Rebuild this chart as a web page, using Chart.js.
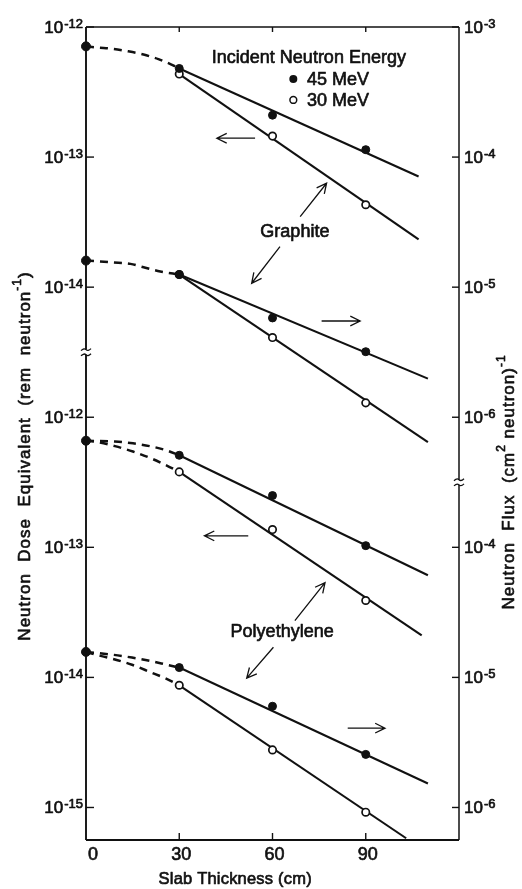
<!DOCTYPE html>
<html>
<head>
<meta charset="utf-8">
<title>Neutron dose equivalent vs slab thickness</title>
<script src="https://cdn.jsdelivr.net/npm/chart.js@4.4.1/dist/chart.umd.min.js"></script>
<style>
html,body{margin:0;padding:0;background:#fff;overflow:hidden}
#wrap{width:522px;height:889px}
canvas{display:block}
</style>
</head>
<body>
<div id="wrap"><canvas id="chart" width="522" height="889"></canvas></div>
<script>
/* ================= DATA ================= */
const thickness = [30, 60, 90];            // cm, measured slabs
const startX = [0];

// Graphite, dose equivalent (rem neutron^-1) – left axis, upper panel
const graphiteDoseStart = [7.1e-13];
const graphiteDose45 = [4.8e-13, 2.1e-13, 1.14e-13];
const graphiteDose30 = [4.35e-13, 1.45e-13, 4.3e-14];
const graphiteDoseCurveX = [0, 3.8, 8.3, 13.1, 18.5, 23.3, 27.5, 30];
const graphiteDoseCurve = [7.1e-13, 6.95e-13, 6.82e-13, 6.53e-13, 6.14e-13, 5.66e-13, 5.14e-13, 4.8e-13];
const graphiteDose45FitX = [30, 107];
const graphiteDose45Fit = [4.8e-13, 7.1e-14];
const graphiteDose30FitX = [30, 107];
const graphiteDose30Fit = [4.35e-13, 2.33e-14];

// Graphite, neutron flux (cm^2 neutron)^-1 – right axis, upper panel
const graphiteFluxStart = [1.6e-5];
const graphiteFlux45 = [1.25e-5, 5.8e-6, 3.19e-6];
const graphiteFlux30 = [1.25e-5, 4.1e-6, 1.29e-6];
const graphiteFluxCurveX = [0, 8.8, 14.3, 19.1, 23.9, 30];
const graphiteFluxCurve = [1.6e-5, 1.55e-5, 1.51e-5, 1.41e-5, 1.32e-5, 1.25e-5];
const graphiteFlux45FitX = [30, 110];
const graphiteFlux45Fit = [1.25e-5, 1.98e-6];
const graphiteFlux30FitX = [30, 110];
const graphiteFlux30Fit = [1.25e-5, 6.45e-7];

// Polyethylene, dose equivalent – left axis, lower panel
const polyDoseStart = [6.6e-13];
const polyDose45 = [5.1e-13, 2.5e-13, 1.03e-13];
const polyDose30 = [3.8e-13, 1.37e-13, 3.9e-14];
const polyDose45CurveX = [0, 9.3, 15.1, 21.2, 26, 30];
const polyDose45Curve = [6.6e-13, 6.5e-13, 6.3e-13, 5.95e-13, 5.55e-13, 5.1e-13];
const polyDose30CurveX = [0, 3.5, 9.3, 15.1, 21.2, 26, 30];
const polyDose30Curve = [6.6e-13, 6.45e-13, 6.0e-13, 5.45e-13, 4.8e-13, 4.25e-13, 3.8e-13];
const polyDose45FitX = [30, 110];
const polyDose45Fit = [5.1e-13, 6.1e-14];
const polyDose30FitX = [30, 108];
const polyDose30Fit = [3.8e-13, 2.1e-14];

// Polyethylene, neutron flux – right axis, lower panel
const polyFluxStart = [1.57e-5];
const polyFlux45 = [1.19e-5, 6.0e-6, 2.56e-6];
const polyFlux30 = [8.7e-6, 2.77e-6, 9.2e-7];
const polyFlux45CurveX = [0, 9, 14.8, 20.6, 26.1, 30];
const polyFlux45Curve = [1.57e-5, 1.49e-5, 1.42e-5, 1.34e-5, 1.25e-5, 1.19e-5];
const polyFlux30CurveX = [0, 2.9, 9, 14.8, 20.6, 26.1, 30];
const polyFlux30Curve = [1.57e-5, 1.5e-5, 1.38e-5, 1.25e-5, 1.1e-5, 9.7e-6, 8.7e-6];
const polyFlux45FitX = [30, 110];
const polyFlux45Fit = [1.19e-5, 1.53e-6];
const polyFlux30FitX = [30, 103];
const polyFlux30Fit = [8.7e-6, 5.8e-7];

// axis ticks and labels
const xTickValues = [0, 30, 60, 90];
const xTickLabels = ['0', '30', '60', '90'];
const leftUpperExps = [-12, -13, -14];      // graphite dose
const leftLowerExps = [-12, -13, -14, -15]; // polyethylene dose
const rightUpperExps = [-3, -4, -5, -6];    // graphite flux
const rightLowerExps = [-4, -5, -6];        // polyethylene flux
const legendTitle = 'Incident Neutron Energy';
const energyLabels = ['45 MeV', '30 MeV'];
const materialLabels = ['Graphite', 'Polyethylene'];
const xTitle = 'Slab Thickness (cm)';

/* ====== broken-axis mapping: every panel is shifted onto one log scale ====== */
const graphiteDoseScale = 1;
const graphiteFluxScale = 1e-9;
const polyDoseScale = 1e-3;
const polyFluxScale = 1e-12;
const X_MIN = 0, X_MAX = 120;
const Y_MAX = 1e-12, Y_MIN = Math.pow(10, -18.25);

/* ================= helpers ================= */
const FONT = '"Liberation Sans", Arial, Helvetica, sans-serif';
const INK = '#111';
function xy(xs, vals, f) { return xs.map((x, i) => ({ x: x, y: vals[i] * f })); }

function pointSet(xs, vals, f, filled, r) {
  return {
    data: xy(xs, vals, f), showLine: false, order: 0, clip: false,
    pointRadius: r || (filled ? 4 : 3.7), pointHoverRadius: r || 4,
    pointBackgroundColor: filled ? INK : '#fff', pointBorderColor: INK,
    pointBorderWidth: filled ? 1 : 1.7
  };
}
function lineSet(xs, vals, f) {
  return { data: xy(xs, vals, f), showLine: true, order: 1, borderColor: INK, borderWidth: 2.1,
           pointRadius: 0, pointHoverRadius: 0, fill: false, tension: 0 };
}
function dashSet(xs, vals, f) {
  return { data: xy(xs, vals, f), showLine: true, order: 1, borderColor: INK, borderWidth: 2.5,
           borderDash: [8, 6], pointRadius: 0, pointHoverRadius: 0, fill: false,
           tension: 0.4, cubicInterpolationMode: 'monotone' };
}

const datasets = [
  pointSet(thickness, graphiteDose45, graphiteDoseScale, true),
  pointSet(thickness, graphiteFlux45, graphiteFluxScale, true),
  pointSet(thickness, polyDose45, polyDoseScale, true),
  pointSet(thickness, polyFlux45, polyFluxScale, true),
  pointSet(thickness, graphiteDose30, graphiteDoseScale, false),
  pointSet(thickness, graphiteFlux30, graphiteFluxScale, false),
  pointSet(thickness, polyDose30, polyDoseScale, false),
  pointSet(thickness, polyFlux30, polyFluxScale, false),
  pointSet(startX, graphiteDoseStart, graphiteDoseScale, true, 4.5),
  pointSet(startX, graphiteFluxStart, graphiteFluxScale, true, 4.5),
  pointSet(startX, polyDoseStart, polyDoseScale, true, 4.5),
  pointSet(startX, polyFluxStart, polyFluxScale, true, 4.5),
  lineSet(graphiteDose45FitX, graphiteDose45Fit, graphiteDoseScale),
  lineSet(graphiteDose30FitX, graphiteDose30Fit, graphiteDoseScale),
  lineSet(graphiteFlux45FitX, graphiteFlux45Fit, graphiteFluxScale),
  lineSet(graphiteFlux30FitX, graphiteFlux30Fit, graphiteFluxScale),
  lineSet(polyDose45FitX, polyDose45Fit, polyDoseScale),
  lineSet(polyDose30FitX, polyDose30Fit, polyDoseScale),
  lineSet(polyFlux45FitX, polyFlux45Fit, polyFluxScale),
  lineSet(polyFlux30FitX, polyFlux30Fit, polyFluxScale),
  dashSet(graphiteDoseCurveX, graphiteDoseCurve, graphiteDoseScale),
  dashSet(graphiteFluxCurveX, graphiteFluxCurve, graphiteFluxScale),
  dashSet(polyDose45CurveX, polyDose45Curve, polyDoseScale),
  dashSet(polyDose30CurveX, polyDose30Curve, polyDoseScale),
  dashSet(polyFlux45CurveX, polyFlux45Curve, polyFluxScale),
  dashSet(polyFlux30CurveX, polyFlux30Curve, polyFluxScale)
];

function P(chart, xcm, d) { // position from thickness and decades below the top
  return { x: chart.scales.x.getPixelForValue(xcm), y: chart.scales.y.getPixelForValue(Math.pow(10, -12 - d)) };
}
function ink(ctx, s, x, y) { // slightly heavy lettering like the original
  ctx.fillText(s, x, y);
  ctx.save(); ctx.lineWidth = 0.65; ctx.lineJoin = 'round'; ctx.strokeStyle = INK; ctx.strokeText(s, x, y); ctx.restore();
}
function arrow(ctx, a, b) {
  const head = 11, ang = 0.46;
  const t = Math.atan2(b.y - a.y, b.x - a.x);
  ctx.beginPath();
  ctx.moveTo(a.x, a.y); ctx.lineTo(b.x, b.y);
  ctx.moveTo(b.x - head * Math.cos(t - ang), b.y - head * Math.sin(t - ang));
  ctx.lineTo(b.x, b.y);
  ctx.lineTo(b.x - head * Math.cos(t + ang), b.y - head * Math.sin(t + ang));
  ctx.stroke();
}
function setSpacing(ctx, s) { if ('letterSpacing' in ctx) ctx.letterSpacing = s + 'px'; }
function richWidth(ctx, parts, size, sup) {
  let w = 0;
  parts.forEach(p => { ctx.font = (p.sup ? sup : size) + 'px ' + FONT; w += ctx.measureText(p.t).width; });
  return w;
}
function drawRich(ctx, parts, x, y, size, sup, align) {
  const w = richWidth(ctx, parts, size, sup);
  let cx = align === 'center' ? x - w / 2 : (align === 'right' ? x - w : x);
  ctx.textAlign = 'left'; ctx.textBaseline = 'middle';
  parts.forEach(p => {
    ctx.font = (p.sup ? sup : size) + 'px ' + FONT;
    ink(ctx, p.t, cx, p.sup ? y - size * 0.42 : y);
    cx += ctx.measureText(p.t).width;
  });
}
function power(ctx, exp, x, y, align) {
  const base = '10', sup = '-' + Math.abs(exp);
  ctx.font = '17px ' + FONT; const wb = ctx.measureText(base).width;
  ctx.font = '13px ' + FONT; const ws = ctx.measureText(sup).width;
  const w = wb + 1 + ws;
  const x0 = align === 'right' ? x - w : x;
  ctx.textAlign = 'left';
  ctx.font = '17px ' + FONT; ctx.textBaseline = 'middle'; ink(ctx, base, x0, y + 1);
  ctx.font = '13px ' + FONT; ctx.textBaseline = 'alphabetic'; ink(ctx, sup, x0 + wb + 1, y + 1);
}
function breakMark(ctx, x, y) {
  ctx.save();
  ctx.fillStyle = '#fff';
  ctx.fillRect(x - 3, y - 2.5, 6, 5);
  ctx.strokeStyle = INK; ctx.lineWidth = 1.3;
  [-2.6, 2.6].forEach(dy => {
    ctx.beginPath();
    ctx.moveTo(x - 5, y + dy + 1);
    ctx.quadraticCurveTo(x - 2, y + dy - 2, x, y + dy);
    ctx.quadraticCurveTo(x + 2, y + dy + 2, x + 5, y + dy - 1);
    ctx.stroke();
  });
  ctx.restore();
}

const decor = {
  id: 'decor',
  beforeDraw(chart) {
    const c = chart.ctx; c.save(); c.fillStyle = '#fff'; c.fillRect(0, 0, chart.width, chart.height); c.restore();
  },
  afterDatasetsDraw(chart) {
    const ctx = chart.ctx, xs = chart.scales.x, ys = chart.scales.y;
    const a = chart.chartArea, L = a.left, R = a.right, T = a.top, B = a.bottom;
    ctx.save();
    ctx.strokeStyle = INK; ctx.fillStyle = INK; ctx.lineCap = 'butt';

    // frame
    const yLB = ys.getPixelForValue(Math.pow(10, -14.5));   // left axis break
    const yRB = ys.getPixelForValue(Math.pow(10, -15.5));   // right axis break
    ctx.lineWidth = 1.5;
    ctx.beginPath(); ctx.moveTo(L, T); ctx.lineTo(R, T); ctx.stroke();
    ctx.lineWidth = 1.9;
    ctx.beginPath(); ctx.moveTo(L, B); ctx.lineTo(R, B); ctx.stroke();
    ctx.beginPath(); ctx.moveTo(L, T); ctx.lineTo(L, B); ctx.stroke();
    ctx.lineWidth = 1.5;
    ctx.beginPath(); ctx.moveTo(R, T); ctx.lineTo(R, B); ctx.stroke();
    breakMark(ctx, L, yLB);
    breakMark(ctx, R, yRB);

    // x ticks (inward) and labels
    ctx.lineWidth = 1.4;
    xTickValues.forEach((v, i) => {
      const px = xs.getPixelForValue(v);
      if (v > X_MIN) {
        ctx.beginPath(); ctx.moveTo(px, T); ctx.lineTo(px, T + 5); ctx.stroke();
        ctx.beginPath(); ctx.moveTo(px, B); ctx.lineTo(px, B - 7); ctx.stroke();
      }
      ctx.font = '18px ' + FONT; ctx.textAlign = 'center'; ctx.textBaseline = 'middle';
      ink(ctx, xTickLabels[i], v === X_MIN ? px + 7 : px + 2, B + 15);
    });
    ctx.font = '16.5px ' + FONT; ctx.textAlign = 'center'; ctx.textBaseline = 'middle';
    setSpacing(ctx, 0.2);
    ink(ctx, xTitle, xs.getPixelForValue(48), B + 39);
    setSpacing(ctx, 0);

    // left axis ticks and labels
    const leftTicks = leftUpperExps.map(e => Math.pow(10, e) * graphiteDoseScale)
      .concat(leftLowerExps.map(e => Math.pow(10, e) * polyDoseScale));
    const leftExps = leftUpperExps.concat(leftLowerExps);
    leftTicks.forEach((v, i) => {
      const py = ys.getPixelForValue(v);
      ctx.beginPath(); ctx.moveTo(L, py); ctx.lineTo(L + 8, py); ctx.stroke();
      power(ctx, leftExps[i], L - 3, py, 'right');
    });
    // right axis ticks and labels
    const rightTicks = rightUpperExps.map(e => Math.pow(10, e) * graphiteFluxScale)
      .concat(rightLowerExps.map(e => Math.pow(10, e) * polyFluxScale));
    const rightExps = rightUpperExps.concat(rightLowerExps);
    rightTicks.forEach((v, i) => {
      const py = ys.getPixelForValue(v);
      ctx.beginPath(); ctx.moveTo(R - 7, py); ctx.lineTo(R, py); ctx.stroke();
      power(ctx, rightExps[i], R + 5, py, 'left');
    });

    // axis titles (rotated)
    setSpacing(ctx, 1);
    ctx.save(); ctx.translate(25, 456); ctx.rotate(-Math.PI / 2);
    drawRich(ctx, [{ t: 'Neutron  Dose  Equivalent  (rem  neutron' }, { t: '-1', sup: true }, { t: ')' }], 0, 0, 17, 12, 'center');
    ctx.restore();
    ctx.save(); ctx.translate(509, 482); ctx.rotate(-Math.PI / 2);
    drawRich(ctx, [{ t: 'Neutron  Flux  (cm' }, { t: '2', sup: true }, { t: ' neutron)' }, { t: '-1', sup: true }], 0, 0, 17, 12, 'center');
    ctx.restore();
    setSpacing(ctx, 0);

    // legend
    const lt = P(chart, 71.7, 0.238);
    ctx.font = '18px ' + FONT; ctx.textAlign = 'center'; ctx.textBaseline = 'middle';
    ink(ctx, legendTitle, lt.x, lt.y);
    [0.40, 0.561].forEach((d, i) => {
      const m = P(chart, 66.7, d), t = P(chart, 71.1, d);
      ctx.beginPath(); ctx.arc(m.x, m.y, i === 0 ? 4 : 3.4, 0, Math.PI * 2);
      if (i === 0) { ctx.fill(); } else { ctx.lineWidth = 1.5; ctx.stroke(); }
      ctx.font = '18px ' + FONT; ctx.textAlign = 'left'; ctx.textBaseline = 'middle';
      ink(ctx, energyLabels[i], t.x, t.y + 1);
    });

    // material labels and arrows
    const g = P(chart, 67.2, 1.575), p = P(chart, 63.1, 4.655);
    ctx.font = '18px ' + FONT; ctx.textAlign = 'center'; ctx.textBaseline = 'middle';
    ink(ctx, materialLabels[0], g.x, g.y);
    ink(ctx, materialLabels[1], p.x, p.y);
    ctx.lineWidth = 1.3;
    const arrows = [
      [[68.9, 1.458], [77.4, 1.201]], [[62.4, 1.689], [53.3, 1.970]],
      [[54.4, 0.855], [42.1, 0.855]], [[75.8, 2.26], [88.2, 2.26]],
      [[67.2, 4.563], [76.9, 4.271]], [[60.3, 4.768], [51.7, 5.006]],
      [[52.2, 3.912], [38.1, 3.912]], [[84.2, 5.39], [96.2, 5.39]]
    ];
    arrows.forEach(ar => arrow(ctx, P(chart, ar[0][0], ar[0][1]), P(chart, ar[1][0], ar[1][1])));
    ctx.restore();
  }
};

new Chart(document.getElementById('chart'), {
  type: 'scatter',
  data: { datasets: datasets },
  options: {
    responsive: false, animation: false, devicePixelRatio: 1,
    layout: { padding: { left: 86, right: 63, top: 27, bottom: 49 } },
    plugins: { legend: { display: false }, tooltip: { enabled: false } },
    scales: {
      x: { type: 'linear', min: X_MIN, max: X_MAX, display: false },
      y: { type: 'logarithmic', min: Y_MIN, max: Y_MAX, display: false }
    }
  },
  plugins: [decor]
});
</script>
</body>
</html>
